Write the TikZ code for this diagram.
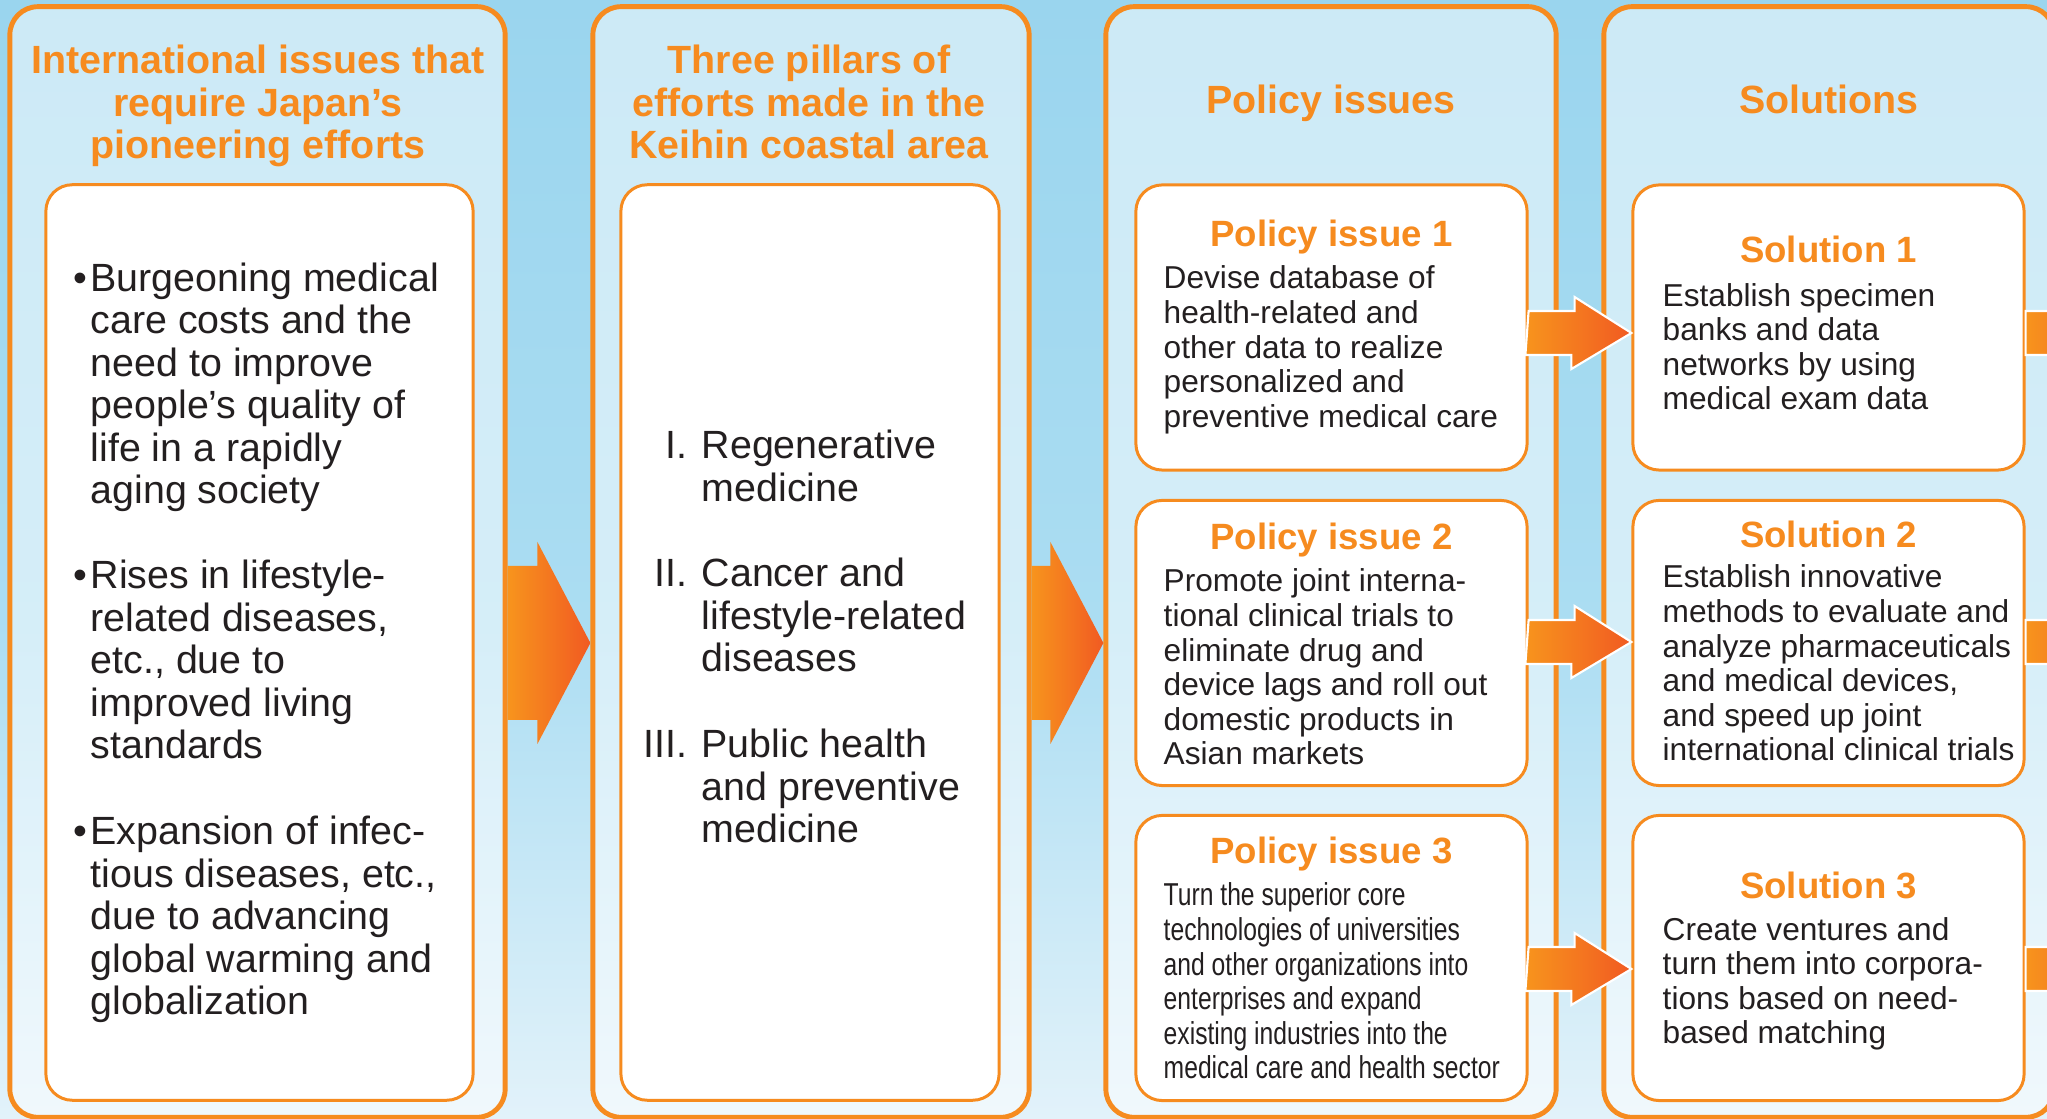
\documentclass[tikz,border=0pt]{standalone}
\usepackage{fontspec}
\setmainfont{Liberation Sans}
\newfontfamily\narrowfont[FakeStretch=0.78]{Liberation Sans}
\usetikzlibrary{calc}

\definecolor{pillorange}{HTML}{F68B1F}
\definecolor{arrowlight}{HTML}{F7941D}
\definecolor{arrowdark}{HTML}{F15A22}
\definecolor{bodyink}{HTML}{231F20}
\definecolor{skytop}{HTML}{9AD5EE}
\definecolor{skymid}{HTML}{ABDDF2}
\definecolor{skylow}{HTML}{E2F2FA}

\tikzset{
  colbox/.style={draw=pillorange, line width=1.4pt, rounded corners=8pt,
    fill=white, fill opacity=0.5, inner sep=0pt},
  card/.style={draw=pillorange, line width=0.85pt, rounded corners=7.5pt,
    fill=white, inner sep=0pt},
  coltitle/.style={text=pillorange, font=\fontsize{11.2}{12.1}\bfseries\selectfont,
    align=center, anchor=base, inner sep=0pt},
  cardtitle/.style={text=pillorange, font=\fontsize{10.4}{12}\bfseries\selectfont,
    anchor=base, inner sep=0pt},
  bigtext/.style={text=bodyink, font=\fontsize{11.2}{12.1}\selectfont,
    align=left, anchor=base west, inner sep=0pt},
  smalltext/.style={text=bodyink, font=\fontsize{9}{9.85}\selectfont,
    align=left, anchor=base west, inner sep=0pt},
  bigarrow/.style={left color=arrowlight, right color=arrowdark},
  smallarrow/.style={left color=arrowlight, right color=arrowdark,
    draw=white, line width=0.6pt},
}

\begin{document}
\begin{tikzpicture}[x=0.01cm, y=-0.01cm]
\useasboundingbox (0,0) rectangle (2047,1119);
\clip (0,0) rectangle (2047,1119);
% sky
\shade[top color=skytop, bottom color=skymid] (0,0) rectangle (2047,620);
\shade[top color=skymid, bottom color=skylow] (0,620) rectangle (2047,1119);

% the four columns
\node[colbox, minimum width=4.95cm, minimum height=11.1cm] (col1) at (257.5,562) {};
\node[colbox, minimum width=4.36cm, minimum height=11.1cm] (col2) at (811,562) {};
\node[colbox, minimum width=4.5cm, minimum height=11.1cm] (col3) at (1331,562) {};
\node[colbox, minimum width=4.5cm, minimum height=11.1cm] (col4) at (1829,562) {};

\node[card, minimum width=4.27cm, minimum height=9.15cm] (issues) at (259.5,642.5) {};
\node[card, minimum width=3.78cm, minimum height=9.15cm] (pillars) at (810,642.5) {};
\foreach \i/\y in {1/327.5, 2/643, 3/958}{
  \node[card, minimum width=3.91cm, minimum height=2.85cm] (pol\i) at (1331.5,\y) {};
  \node[card, minimum width=3.91cm, minimum height=2.85cm] (sol\i) at (1828.5,\y) {};
}

% headings (base = last line)
\node[coltitle] (head1) at (258,159) {International issues that\\require Japan’s\\pioneering efforts};
\node[coltitle] (head2) at (809,159) {Three pillars of\\efforts made in the\\Keihin coastal area};
\node[coltitle] (head3) at (1331,114) {Policy issues};
\node[coltitle] (head4) at (1829,114) {Solutions};

% international issues
\node[bigtext] (need1) at (90,504) {\llap{\textbullet\hspace{1pt}}Burgeoning medical\\care costs and the\\need to improve\\people’s quality of\\life in a rapidly\\aging society};
\node[bigtext] (need2) at (90,759) {\llap{\textbullet\hspace{1pt}}Rises in lifestyle-\\related diseases,\\etc., due to\\improved living\\standards};
\node[bigtext] (need3) at (90,1015) {\llap{\textbullet\hspace{1pt}}Expansion of infec-\\tious diseases, etc.,\\due to advancing\\global warming and\\globalization};

% three pillars
\node[bigtext] (pillar1) at (701,501.5) {\llap{I.\hspace{4pt}}Regenerative\\medicine};
\node[bigtext] (pillar2) at (701,672) {\llap{II.\hspace{4pt}}Cancer and\\lifestyle-related\\diseases};
\node[bigtext] (pillar3) at (701,843) {\llap{III.\hspace{4pt}}Public health\\and preventive\\medicine};

% policy issues
\node[cardtitle] (poltitle1) at (1331.5,247) {Policy issue 1};
\node[smalltext] (poltext1) at (1163,427.5) {Devise database of\\health-related and\\other data to realize\\personalized and\\preventive medical care};
\node[cardtitle] (poltitle2) at (1331.5,550) {Policy issue 2};
\node[smalltext] (poltext2) at (1163,765) {Promote joint interna-\\tional clinical trials to\\eliminate drug and\\device lags and roll out\\domestic products in\\Asian markets};
\node[cardtitle] (poltitle3) at (1331.5,864) {Policy issue 3};
\node[smalltext, font=\narrowfont\fontsize{9}{9.85}\selectfont] (poltext3) at (1163,1079) {Turn the superior core\\technologies of universities\\and other organizations into\\enterprises and expand\\existing industries into the\\medical care and health sector};

% solutions
\node[cardtitle] (soltitle1) at (1828.5,263) {Solution 1};
\node[smalltext] (soltext1) at (1662,410) {Establish specimen\\banks and data\\networks by using\\medical exam data};
\node[cardtitle] (soltitle2) at (1828.5,548) {Solution 2};
\node[smalltext] (soltext2) at (1662,761) {Establish innovative\\methods to evaluate and\\analyze pharmaceuticals\\and medical devices,\\and speed up joint\\international clinical trials};
\node[cardtitle] (soltitle3) at (1828.5,899) {Solution 3};
\node[smalltext] (soltext3) at (1662,1044) {Create ventures and\\turn them into corpora-\\tions based on need-\\based matching};

% arrows
\foreach \a/\b in {col1/col2, col2/col3}
  \shade[bigarrow] (\a.east |- 0,566) -- ($(\b.west |- 0,566)+(-53,0)$) -- ++(0,-24)
    -- (\b.west |- 0,643) -- ++(-53,101) -- ++(0,-24) -- (\a.east |- 0,720) -- cycle;
\foreach \i/\y in {1/333, 2/642, 3/969}{
  \shadedraw[smallarrow] (pol\i.east |- 0,\y) ++(0,-22) -- ++(46,0) -- ++(0,-14)
    -- (sol\i.west |- 0,\y) -- ++(-60,36) -- ++(0,-14) -- ++(-46,0) -- cycle;
  \shadedraw[smallarrow] (sol\i.east |- 0,\y) ++(0,-22) -- ++(46,0) -- ++(0,-14)
    -- ++(60,36) -- ++(-60,36) -- ++(0,-14) -- ++(-46,0) -- cycle;
}
\end{tikzpicture}
\end{document}
